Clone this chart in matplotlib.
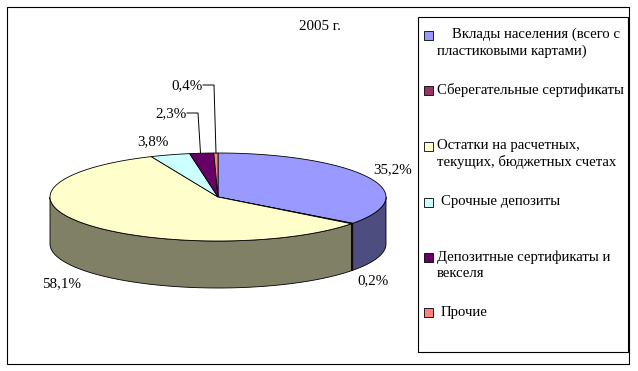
import numpy as np
import matplotlib
matplotlib.use('Agg')
import matplotlib.pyplot as plt
from matplotlib.patches import Rectangle

plt.rcParams['font.family'] = ['Liberation Serif', 'DejaVu Serif']

title = '2005 г.'
names = ['\u00a0\u00a0\u00a0\u00a0Вклады населения (всего с\nпластиковыми картами)',
         'Сберегательные сертификаты',
         'Остатки на расчетных,\nтекущих, бюджетных счетах',
         'Срочные депозиты',
         'Депозитные сертификаты и\nвекселя',
         'Прочие']
values = [35.2, 0.2, 58.1, 3.8, 2.3, 0.4]
labels = ['35,2%', '0,2%', '58,1%', '3,8%', '2,3%', '0,4%']
colors = ['#9999FF', '#993366', '#FFFFCC', '#CCFFFF', '#660066', '#FF8080']
side_colors = ['#4D4D80', '#4D1A33', '#808066', '#668080', '#330033', '#804040']

# pie geometry in pixels
cx, cy = 218, 197
rx, ry = 168, 44
depth = 47


def rim(a0, a1):
    # angles clockwise from 12 o'clock, in radians
    t = np.linspace(a0, a1, max(int((a1 - a0) * 60), 2))
    return cx + rx * np.sin(t), cy - ry * np.cos(t)


fig = plt.figure(figsize=(6.38, 3.71), dpi=100)
ax = fig.add_axes([0, 0, 1, 1])
ax.set_xlim(0, 638)
ax.set_ylim(371, 0)
ax.axis('off')

ax.add_patch(Rectangle((6.5, 6.5), 622, 357, fc='white', ec='black', lw=0.8))

edges = np.cumsum([0] + values) / 100 * 2 * np.pi

# side wall, only the front half of the rim shows
for i in range(len(values)):
    a0 = max(edges[i], np.pi / 2)
    a1 = min(edges[i + 1], 3 * np.pi / 2)
    if a1 <= a0:
        continue
    x, y = rim(a0, a1)
    ax.fill(np.r_[x, x[::-1]], np.r_[y, y[::-1] + depth],
            fc=side_colors[i], ec='black', lw=0.6, zorder=2)

# top surface
for i in range(len(values)):
    x, y = rim(edges[i], edges[i + 1])
    ax.fill(np.r_[cx, x], np.r_[cy, y], fc=colors[i], ec='black', lw=0.6,
            joinstyle='miter', zorder=3)

ax.text(320, 26, title, fontsize=10.8, ha='center', va='center')

# data labels
label_pos = [(392.5, 170), (372.5, 281), (61.5, 284), (152.5, 142), (171.5, 114), (187.5, 86)]
for s, (x, y) in zip(labels, label_pos):
    ax.text(x, y, s, fontsize=10.8, ha='center', va='center', zorder=5)

# leader lines
ax.plot([187, 198, 200.5], [113, 113, 153], color='black', lw=0.7, zorder=4)
ax.plot([203, 214, 216], [85, 85, 153], color='black', lw=0.7, zorder=4)

# legend
ax.add_patch(Rectangle((417.5, 16.5), 210, 335, fc='white', ec='black', lw=0.8, zorder=1))
marker_y = [35, 90.5, 146, 202, 257, 312.5]
text_x = [437, 437, 437, 441, 437, 441]
text_y = [43, 90, 154, 201, 265, 312.5]
for i, name in enumerate(names):
    ax.add_patch(Rectangle((423.5, marker_y[i] - 4.5), 9, 9, fc=colors[i], ec='black', lw=0.6))
    ax.text(text_x[i], text_y[i], name, fontsize=10.6, ha='left', va='center', linespacing=1.32)

fig.savefig('out.png', dpi=100)
